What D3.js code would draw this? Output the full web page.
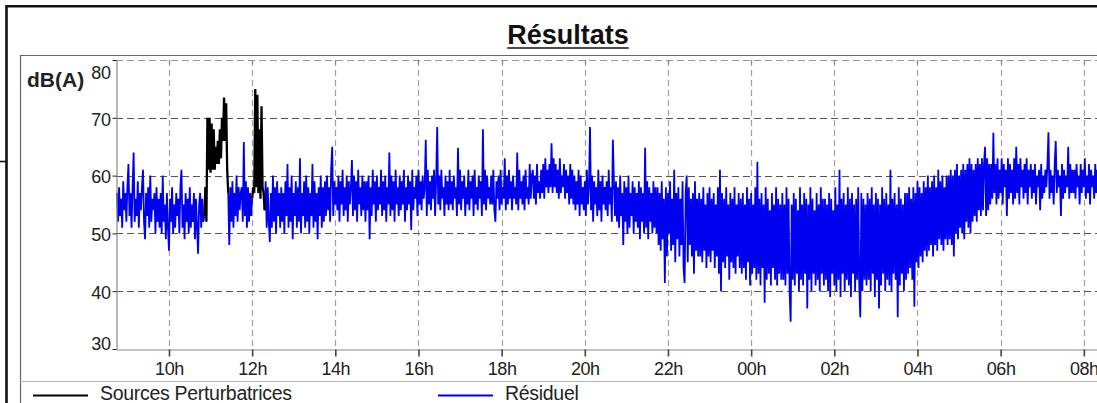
<!DOCTYPE html>
<html>
<head>
<meta charset="utf-8">
<script src="https://cdn.jsdelivr.net/npm/d3@7"></script>
<style>
  html, body { margin: 0; padding: 0; background: #fff; }
  svg { display: block; font-family: "Liberation Sans", Arial, Helvetica, sans-serif; }
</style>
</head>
<body>
<svg id="chart" width="1097" height="403"></svg>
<script>
// Mesure acoustique sur 24 h : niveaux au pas de 1 min 30 s, en dB(A)
const debutMesure = 8.726;   // 08h44
const finMesure = 32.726;    // 08h44 le lendemain
const pasHeures = 1.5 / 60;

const heuresTicks = [10, 12, 14, 16, 18, 20, 22, 24, 26, 28, 30, 32];
const etiquettesHeures = ["10h", "12h", "14h", "16h", "18h", "20h", "22h", "00h", "02h", "04h", "06h", "08h"];
const niveauxTicks = [30, 40, 50, 60, 70, 80];
const grilleNiveaux = [40, 50, 60, 70];

const nomsSeries = ["Sources Perturbatrices", "Résiduel"];

// Bruit résiduel, à partir de 08h45 (null : période attribuée aux sources perturbatrices)
const residuelDebut = 8.75;
const residuelMatin = [ // 08h45 - 13h43
  57,52,58,53,56,51,59,54,57,52,58,62,53,57,51,58,64,52,56,53,
  59,51,57,54,58,61,52,49,57,53,58,51,60,52,56,54,57,50,58,52,
  56,51,57,50,60,52,55,49,57,51,47,56,52,58,50,55,51,57,53,56,
  50,58,61,51,55,49,57,52,56,50,58,51,55,52,57,49,56,51,46.5,55,
  57,51,56,52,53,null,null,null,null,null,null,null,null,null,null,null,null,null,null,null,
  null,null,null,null,null,null,null,57,48,58,52,59,51,57,53,60,52,58,54,57,
  58,52,65.8,53,59,51,58,52,57,53,56,null,null,null,null,null,null,null,null,null,
  null,null,54,59,51,58,52,48.5,57,51,60,52,58,50,59,53,57,51,58,52,
  57,50,59,53,62,51,58,52,60,49,57,53,59,51,58,52,63,50,57,53,
  59,51,60,52,58,50,57,53,62,51,59,52,57,49,58,53,60,51,58,52
];
const residuelApresMidi = [ // 13h45 - 19h43
  59,53,60,54,58,52,61,65,53,59,55,58,54,60,52,59,55,61,53,58,
  54,60,52,59,55,58,62.7,53,60,54,59,52,61,55,58,53,60,54,59,52,
  59,54,60,49,58,53,61,55,59,52,60,54,58,55,61,53,59,54,60,52,
  58,55,64,53,60,54,59,52,61,55,58,53,60,54,59,55,61,52,58,54,
  60,55,59,50.6,61,54,58,56,60,53,61,55,59,54,60,56,58,66.2,53,61,
  55,59,54,60,56,61,53,59,68.4,55,60,54,61,56,58,53,60,55,59,54,
  61,55,59,54,60,56,58,53,64.8,55,61,54,59,56,60,53,58,55,61,54,
  59,56,60,53,61,55,58,54,60,56,59,53,68,55,61,54,60,56,58,55,
  60,55,61,54,52,59,56,60,54,61,55,58,56,63,54,60,55,61,56,59,
  54,60,56,58,55,64,54,61,56,59,55,60,54,61,56,58,55,62,56,60,
  61,56,60,55,62,57,59,56,61,57,62,56,63,58,61,57,62,58,65.6,57,
  63,58,62,57,61,56,63,57,60,58,62,56,61,57,60,55,62,56,61,55
];
const residuelSoiree = [ // 19h45 - 23h43
  60,54,59,55,61,53,60,55,58,54,59,53,61,55,58,68.4,54,60,52,59,
  55,58,53,61,54,59,52,60,55,58,54,59,53,61,55,58,52,66.2,59,53,
  59,52,58,51,60,53,57,48,59,52,58,50,60,51,57,53,59,50,58,52,
  57,51,59,49,58,52,57,50,64.8,51,59,49,58,52,57,50,59,51,58,50,
  58,48,57,47,59,49,56,41.4,58,46,57,50,59,47,56,48,61,45,57,49,
  58,46,56,48,59,44,41.4,57,60,45,58,48,56,46,57,43,59,47,56,46,
  57,46,56,45,58,47,55,44,57,46,58,45,56,47,57,44,55,46,58,43,
  61,40,57,45,56,44,58,46,55,42,57,45,56,44,58,43,55,46,57,44
];
const residuelNuit = [ // 23h45 - 03h43
  56,43,57,44,55,42,58,45,56,41,57,43,55,44,58,42,62.4,43,56,41,
  57,44,55,38,58,42,56,43,54,41,57,44,55,42,58,41,56,43,55,42,
  57,42,55,41,58,43,56,40,34.7,55,42,57,41,56,43,54,40,58,42,55,
  41,57,43,56,37,55,42,58,40,56,43,54,41,57,42,55,40,58,43,56,
  41,56,42,55,40,57,39,56,43,54,41,58,40,55,42,61,39,56,43,57,
  40,55,42,58,41,56,39,57,43,55,40,56,42,58,41,35.5,57,40,56,42,
  55,41,57,42,56,40,58,43,55,39,57,42,56,37,55,41,58,43,56,40,
  57,42,55,41,61,40,56,43,57,42,55,35.5,58,41,56,43,55,40,57,42
];
const residuelMatinee = [ // 03h45 - 08h19
  57,43,58,44,56,42,58,37.3,57,45,59,44,58,46,57,45,59,47,58,46,
  60,47,58,48,59,46,60,48,58,47,61,49,59,48,60,47,58,49,60,48,
  60,49,61,48,60,46,61,50,62,49,60,51,61,50,62,49,61,52,62,51,
  63,50,62,52,61,53,62,52,63,54,62,53,63,54,62,65,53,63,54,62,
  55,62,56,67.4,57,62,55,63,56,61,57,63,55,62,58,61,53,63,56,62,
  57,61,55,63,56,65,57,62,55,63,58,61,56,62,57,63,55,61,58,62,
  56,61,57,62,55,60,58,61,54,62,56,60,57,61,58,62,67.5,56,61,57,
  60,55,62,66,57,61,58,60,53,62,56,61,57,60,58,65,56,62,57,61,
  57,61,56,62,58,60,55,62,57,61,58,63,56,60,57,62,55,61,58,60,56,62,57,61
];

// Sources perturbatrices
const sources1Debut = 10.85;
const sources1 = [53,58,52,70,61,70,60.5,69,61,68,61,65,62,66,62,68,63,70,66,73.5,66,72.5,61,57];
const sources2Debut = 12.0;
const sources2 = [56,58,57,75,58,74,57,68,56,72,58,57,54];

const W = 1097, H = 403;
const plot = { left: 116, top: 60, bottom: 349, right: 1114 };

const svg = d3.select("#chart");

const x = d3.scaleLinear().domain([debutMesure, finMesure]).range([plot.left, plot.right]);
const y = d3.scaleLinear().domain([30, 80]).range([plot.bottom, plot.top]);

const enPoints = (valeurs, debut) => valeurs.map((v, i) => ({ t: debut + i * pasHeures, v }));

const residuel = enPoints(
  [].concat(residuelMatin, residuelApresMidi, residuelSoiree, residuelNuit, residuelMatinee),
  residuelDebut
);
const perturbations = [enPoints(sources1, sources1Debut), enPoints(sources2, sources2Debut)];

// fond
svg.append("rect").attr("width", W).attr("height", H).attr("fill", "#fff");

// cadre extérieur
svg.append("path")
  .attr("d", `M6.5,${H + 5} V6.3 H${W + 5}`)
  .attr("fill", "none").attr("stroke", "#111").attr("stroke-width", 2.6);
svg.append("line")
  .attr("x1", 0).attr("x2", 6).attr("y1", 161.5).attr("y2", 161.5)
  .attr("stroke", "#111").attr("stroke-width", 1.6);

// panneau du graphique
svg.append("path")
  .attr("d", `M20.5,${H + 5} V55.5 H${W + 5}`)
  .attr("fill", "none").attr("stroke", "#666").attr("stroke-width", 1.2);
svg.append("line")
  .attr("x1", 20).attr("x2", W).attr("y1", 381.5).attr("y2", 381.5)
  .attr("stroke", "#b5b5b5").attr("stroke-width", 1);

// titre souligné
const titre = svg.append("text")
  .attr("x", 568).attr("y", 44)
  .attr("text-anchor", "middle")
  .attr("font-weight", "bold").attr("font-size", 27).attr("fill", "#111")
  .text("Résultats");
const bb = titre.node().getBBox();
svg.append("line")
  .attr("x1", bb.x).attr("x2", bb.x + bb.width)
  .attr("y1", 48).attr("y2", 48)
  .attr("stroke", "#111").attr("stroke-width", 1.7);

// grille
const grille = svg.append("g");
grille.selectAll("line.v").data(heuresTicks).join("line")
  .attr("class", "v")
  .attr("x1", d => Math.round(x(d)) + 0.5).attr("x2", d => Math.round(x(d)) + 0.5)
  .attr("y1", plot.top).attr("y2", plot.bottom)
  .attr("stroke", "#a0a0a0").attr("stroke-width", 1.2).attr("stroke-dasharray", "6,4");
grille.selectAll("line.h").data(grilleNiveaux).join("line")
  .attr("class", "h")
  .attr("x1", plot.left).attr("x2", W)
  .attr("y1", d => Math.round(y(d)) + 0.5).attr("y2", d => Math.round(y(d)) + 0.5)
  .attr("stroke", "#555").attr("stroke-width", 1.1).attr("stroke-dasharray", "7,4");
grille.append("line")
  .attr("x1", plot.left).attr("x2", W)
  .attr("y1", Math.round(y(80)) + 0.5).attr("y2", Math.round(y(80)) + 0.5)
  .attr("stroke", "#999").attr("stroke-width", 1.1).attr("stroke-dasharray", "7,4");
grille.selectAll("line.top").data(heuresTicks).join("line")
  .attr("class", "top")
  .attr("x1", d => Math.round(x(d)) + 0.5).attr("x2", d => Math.round(x(d)) + 0.5)
  .attr("y1", plot.top).attr("y2", plot.top + 4)
  .attr("stroke", "#888").attr("stroke-width", 1.2);

// courbes
svg.append("clipPath").attr("id", "zone")
  .append("rect").attr("x", plot.left).attr("y", 50).attr("width", W - plot.left).attr("height", plot.bottom - 50);

const ligne = d3.line()
  .defined(d => d.v != null)
  .x(d => x(d.t))
  .y(d => y(d.v));

const courbes = svg.append("g").attr("clip-path", "url(#zone)");
courbes.append("path")
  .datum(residuel)
  .attr("d", ligne)
  .attr("fill", "none").attr("stroke", "#0000f0").attr("stroke-width", 1.8)
  .attr("stroke-linejoin", "bevel");
courbes.selectAll("path.src").data(perturbations).join("path")
  .attr("class", "src")
  .attr("d", ligne)
  .attr("fill", "none").attr("stroke", "#000").attr("stroke-width", 2.3)
  .attr("stroke-linejoin", "bevel");

// axe des heures
const axeX = d3.axisBottom(x)
  .tickValues(heuresTicks)
  .tickFormat((d, i) => etiquettesHeures[i])
  .tickSize(7).tickSizeOuter(0).tickPadding(6);
const gX = svg.append("g").attr("transform", `translate(0,${plot.bottom + 0.5})`).call(axeX);
gX.select(".domain").attr("stroke", "#888").attr("stroke-width", 1.2);
gX.selectAll(".tick line").attr("stroke", "#444").attr("stroke-width", 1.6);
gX.selectAll(".tick text")
  .attr("font-family", "'Liberation Sans', Arial, sans-serif")
  .attr("font-size", 18).attr("fill", "#222").attr("letter-spacing", -0.4);

// axe des niveaux
const axeY = d3.axisLeft(y)
  .tickValues(niveauxTicks)
  .tickSize(4).tickSizeOuter(0).tickPadding(2);
const gY = svg.append("g").attr("transform", `translate(${plot.left + 0.5},0)`).call(axeY);
gY.select(".domain").attr("stroke", "#888").attr("stroke-width", 1.2);
gY.selectAll(".tick line").attr("stroke", "#222").attr("stroke-width", 1);
gY.selectAll(".tick text")
  .attr("font-family", "'Liberation Sans', Arial, sans-serif")
  .attr("font-size", 18).attr("fill", "#222").attr("letter-spacing", -0.4)
  .attr("dy", d => d === 80 ? "1.0em" : d === 30 ? "0em" : "0.4em");

svg.append("text")
  .attr("x", 27).attr("y", 87)
  .attr("font-weight", "bold").attr("font-size", 21).attr("fill", "#222")
  .text("dB(A)");

// légende
const legende = [
  { nom: nomsSeries[0], couleur: "#000", x1: 33, x2: 88, xt: 100 },
  { nom: nomsSeries[1], couleur: "#0000e0", x1: 438, x2: 493, xt: 505 }
];
const gL = svg.append("g");
gL.selectAll("line").data(legende).join("line")
  .attr("x1", d => d.x1).attr("x2", d => d.x2)
  .attr("y1", 395.5).attr("y2", 395.5)
  .attr("stroke", d => d.couleur).attr("stroke-width", 2);
gL.selectAll("text").data(legende).join("text")
  .attr("x", d => d.xt).attr("y", 400)
  .attr("font-size", 19.5).attr("fill", "#222").attr("letter-spacing", -0.3)
  .text(d => d.nom);
</script>
</body>
</html>
